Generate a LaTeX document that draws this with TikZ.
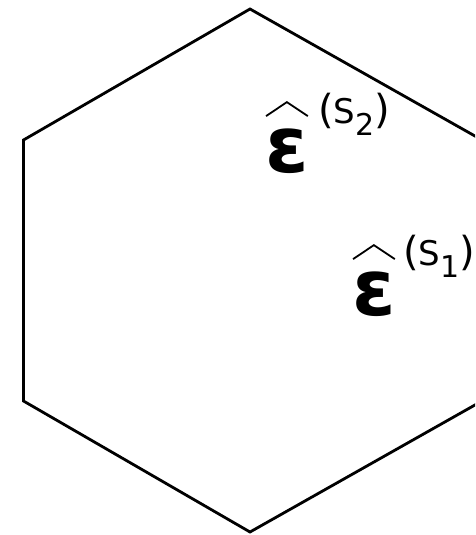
\documentclass[tikz,border=0pt]{standalone}
\usepackage{fontspec}
\newfontfamily\labelfont{DejaVu Sans}
\tikzset{
  cell/.style={line width=2.8pt, line join=miter},
  epsnode/.style={inner sep=0pt, font=\labelfont\bfseries\fontsize{78}{78}\selectfont},
  supnode/.style={inner sep=0pt, font=\labelfont\fontsize{34}{34}\selectfont},
  hatline/.style={line width=1.8pt, line join=miter},
}
\newcommand{\sublab}[1]{\raisebox{-12pt}{\fontsize{30}{30}\selectfont #1}}
\newcommand{\bigpar}[1]{{\fontsize{40}{40}\selectfont #1}}
\begin{document}
\begin{tikzpicture}[x=1pt, y=-1pt]
  \useasboundingbox (0,0) rectangle (475,535);
  \clip (0,0) rectangle (475,535);
  % Hexagonal cell (right corners lie outside the frame)
  \coordinate (top) at (250,9);
  \coordinate (ul) at (23.5,140);
  \coordinate (ll) at (23.5,401);
  \coordinate (bot) at (250,532);
  \coordinate (lr) at (482,401);
  \coordinate (ur) at (482,140);
  \draw[cell] (top) -- (ul) -- (ll) -- (bot) -- (lr) -- (ur) -- cycle;
  % Strain labels
  \node[epsnode, anchor=base west] (eps2) at (265,172) {ε};
  \node[supnode, anchor=base west] (sup2) at (318,123) {\bigpar{(}S\sublab{2}\bigpar{)}};
  \node[epsnode, anchor=base west] (eps1) at (352,315) {ε};
  \node[supnode, anchor=base west] (sup1) at (403,265) {\bigpar{(}S\sublab{1}\bigpar{)}};
  % Hats
  \foreach \e in {eps1,eps2}{
    \draw[hatline] ([shift={(1,-12)}]\e.north west) -- ([shift={(0,-26)}]\e.north)
      -- ([shift={(-1,-12)}]\e.north east);
  }
\end{tikzpicture}
\end{document}
